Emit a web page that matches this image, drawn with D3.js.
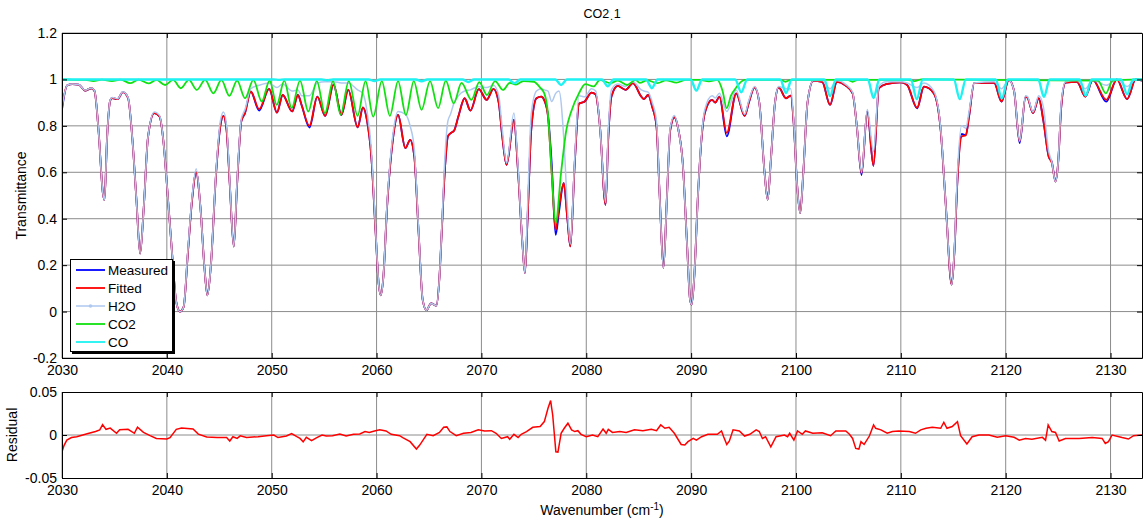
<!DOCTYPE html>
<html>
<head>
<meta charset="utf-8">
<script src="https://cdn.jsdelivr.net/npm/d3@7"></script>
<style>
  body { margin: 0; background: #fff; }
  svg { font-family: "Liberation Sans", Arial, sans-serif; }
</style>
</head>
<body>
<script>
// ---- data ----
const xTicks = [2030, 2040, 2050, 2060, 2070, 2080, 2090, 2100, 2110, 2120, 2130];
const yTicks = [-0.2, 0, 0.2, 0.4, 0.6, 0.8, 1, 1.2];
const resTicks = [-0.05, 0, 0.05];
const seriesNames = ["Measured", "Fitted", "H2O", "CO2", "CO"];

// shared wavenumber grid for measured / fitted / H2O
const wnMain = [
  2030.0,2030.5,2031.0,2031.6,2032.2,2032.8,2033.1,2033.5,2033.9,2034.05,
  2034.3,2034.6,2034.8,2035.3,2035.8,2036.3,2036.7,2037.1,2037.45,2037.8,
  2038.2,2038.8,2039.3,2039.7,2040.0,2040.5,2040.9,2041.25,2041.6,2042.0,
  2042.4,2042.8,2043.2,2043.6,2043.87,2044.2,2044.7,2045.1,2045.4,2045.7,
  2046.0,2046.38,2046.7,2047.1,2047.45,2048.0,2048.8,2049.75,2050.5,2051.05,
  2051.95,2052.5,2052.85,2053.6,2054.35,2055.1,2055.9,2056.65,2057.3,2058.2,
  2058.7,2059.1,2059.5,2059.9,2060.2,2060.4,2060.65,2061.0,2061.55,2062.05,
  2062.75,2063.2,2063.6,2064.0,2064.4,2064.75,2065.2,2065.7,2066.0,2066.2,
  2066.5,2066.8,2067.05,2067.4,2067.8,2068.4,2068.95,2069.75,2070.5,2071.15,
  2071.65,2072.0,2072.4,2073.1,2073.5,2073.9,2074.15,2074.4,2074.75,2075.25,
  2075.7,2076.0,2076.35,2076.7,2077.08,2077.4,2077.85,2078.2,2078.48,2078.9,
  2079.3,2079.85,2080.5,2080.9,2081.3,2081.84,2082.1,2082.4,2083.0,2083.75,
  2084.45,2085.25,2085.5,2085.9,2086.3,2086.7,2087.0,2087.36,2087.7,2088.0,
  2088.4,2088.8,2089.2,2089.6,2089.9,2090.05,2090.3,2090.65,2091.0,2091.3,
  2092.0,2092.3,2092.7,2093.4,2094.3,2095.1,2095.5,2096.05,2096.5,2097.0,
  2097.3,2097.6,2098.0,2098.35,2099.05,2099.5,2099.8,2100.1,2100.4,2100.7,
  2101.1,2101.65,2102.5,2103.25,2103.9,2104.7,2105.4,2105.8,2106.25,2106.8,
  2107.39,2107.9,2108.6,2110.0,2110.6,2111.55,2112.2,2113.15,2113.8,2114.3,
  2114.85,2115.1,2115.4,2115.8,2116.2,2116.5,2117.0,2118.9,2119.6,2120.3,
  2120.8,2121.33,2121.9,2122.1,2122.6,2123.15,2123.6,2124.1,2124.4,2124.75,
  2125.0,2125.3,2125.7,2126.8,2127.6,2128.3,2129.6,2130.6,2131.58,2132.4,
  2133.0
];

const fitted = [
  0.885,0.975,0.98,0.978,0.952,0.962,0.95,0.77,0.51,0.48,
  0.75,0.91,0.92,0.915,0.945,0.92,0.75,0.48,0.25,0.45,
  0.75,0.855,0.84,0.72,0.55,0.25,0.04,0.0,0.02,0.25,
  0.48,0.60,0.45,0.18,0.07,0.2,0.6,0.8,0.843,0.78,
  0.55,0.28,0.55,0.82,0.855,0.948,0.872,0.959,0.857,0.933,
  0.862,0.933,0.89,0.80,0.926,0.843,0.978,0.847,0.955,0.794,
  0.879,0.82,0.668,0.35,0.12,0.07,0.15,0.45,0.74,0.847,
  0.704,0.74,0.668,0.35,0.05,0.006,0.035,0.026,0.15,0.33,
  0.6,0.754,0.768,0.78,0.84,0.919,0.866,0.958,0.912,0.959,
  0.9,0.75,0.632,0.826,0.6,0.3,0.166,0.4,0.783,0.919,
  0.926,0.91,0.84,0.6,0.35,0.45,0.553,0.4,0.281,0.64,
  0.895,0.905,0.943,0.935,0.8,0.46,0.75,0.926,0.972,0.955,
  0.984,0.926,0.915,0.933,0.88,0.797,0.5,0.188,0.5,0.78,
  0.837,0.78,0.64,0.3,0.05,0.03,0.15,0.5,0.75,0.855,
  0.912,0.9,0.926,0.77,0.94,0.843,0.9,0.966,0.9,0.6,
  0.482,0.65,0.9,0.966,0.919,0.93,0.8,0.55,0.424,0.6,
  0.9,0.994,0.99,0.89,0.99,0.975,0.94,0.8,0.596,0.862,
  0.628,0.962,0.98,0.987,0.976,0.878,0.969,0.94,0.783,0.45,
  0.116,0.25,0.568,0.754,0.76,0.84,0.984,0.985,0.905,0.998,
  0.95,0.733,0.926,0.92,0.855,0.919,0.82,0.668,0.64,0.56,
  0.64,0.883,0.986,0.99,0.926,0.998,0.912,1.0,0.915,1.0,
  0.995
];

const measured = [
  0.87,0.975,0.98,0.978,0.952,0.962,0.95,0.77,0.51,0.48,
  0.75,0.91,0.92,0.915,0.945,0.92,0.75,0.48,0.25,0.45,
  0.75,0.855,0.84,0.72,0.55,0.25,0.04,0.0,0.02,0.25,
  0.48,0.60,0.45,0.18,0.07,0.2,0.6,0.8,0.843,0.78,
  0.55,0.28,0.55,0.82,0.855,0.948,0.866,0.959,0.857,0.933,
  0.862,0.933,0.89,0.793,0.926,0.843,0.978,0.847,0.955,0.794,
  0.879,0.82,0.668,0.35,0.12,0.07,0.15,0.45,0.74,0.847,
  0.704,0.74,0.668,0.35,0.05,0.006,0.035,0.026,0.15,0.33,
  0.6,0.754,0.768,0.78,0.84,0.919,0.866,0.958,0.912,0.959,
  0.9,0.75,0.632,0.826,0.6,0.3,0.166,0.4,0.783,0.919,
  0.926,0.91,0.845,0.64,0.33,0.43,0.553,0.4,0.281,0.64,
  0.895,0.905,0.943,0.935,0.8,0.46,0.75,0.926,0.972,0.955,
  0.984,0.926,0.915,0.933,0.88,0.797,0.5,0.188,0.5,0.78,
  0.837,0.78,0.64,0.3,0.05,0.03,0.15,0.5,0.75,0.855,
  0.912,0.9,0.926,0.755,0.94,0.843,0.9,0.966,0.9,0.6,
  0.482,0.65,0.9,0.966,0.919,0.93,0.8,0.55,0.424,0.6,
  0.9,0.994,0.99,0.89,0.99,0.975,0.94,0.8,0.588,0.862,
  0.628,0.962,0.98,0.987,0.976,0.875,0.969,0.94,0.783,0.45,
  0.116,0.25,0.568,0.765,0.76,0.84,0.984,0.985,0.905,0.998,
  0.95,0.726,0.926,0.92,0.855,0.919,0.82,0.668,0.645,0.56,
  0.64,0.883,0.986,0.99,0.926,0.998,0.904,1.0,0.915,1.0,
  0.995
];

const h2o = [
  0.88,0.975,0.98,0.978,0.953,0.963,0.952,0.77,0.51,0.48,
  0.75,0.912,0.922,0.917,0.947,0.922,0.75,0.48,0.25,0.45,
  0.75,0.86,0.845,0.72,0.55,0.25,0.04,0.0,0.02,0.26,
  0.49,0.615,0.45,0.18,0.07,0.2,0.61,0.82,0.86,0.8,
  0.56,0.28,0.56,0.83,0.87,0.96,0.975,0.985,0.965,0.98,
  0.95,0.955,0.93,0.93,0.985,0.99,0.99,0.985,0.985,0.955,
  0.94,0.86,0.7,0.36,0.12,0.07,0.15,0.46,0.76,0.862,
  0.85,0.8,0.7,0.36,0.05,0.006,0.035,0.026,0.15,0.34,
  0.65,0.82,0.85,0.9,0.93,0.95,0.955,0.97,0.965,0.975,
  0.93,0.78,0.64,0.855,0.62,0.3,0.166,0.45,0.85,0.95,
  0.96,0.955,0.95,0.905,0.94,0.95,0.75,0.45,0.29,0.66,
  0.93,0.925,0.96,0.95,0.8,0.47,0.78,0.955,0.98,0.97,
  0.99,0.955,0.95,0.945,0.9,0.82,0.5,0.188,0.5,0.79,
  0.845,0.78,0.64,0.3,0.05,0.03,0.15,0.5,0.76,0.87,
  0.93,0.92,0.94,0.862,0.955,0.85,0.91,0.97,0.9,0.6,
  0.482,0.65,0.9,0.97,0.96,0.96,0.81,0.55,0.424,0.6,
  0.9,0.995,0.995,0.96,0.995,0.98,0.945,0.8,0.6,0.87,
  0.69,0.97,0.99,0.99,0.985,0.965,0.985,0.95,0.79,0.45,
  0.116,0.26,0.6,0.80,0.79,0.86,0.985,0.99,0.96,0.998,
  0.95,0.735,0.93,0.925,0.86,0.93,0.88,0.69,0.645,0.56,
  0.64,0.9,0.99,0.995,0.96,0.998,0.975,1.0,0.97,1.0,
  0.998
];

const wnCO2 = [
  2030.0,2031.5,2032.2,2033.0,2033.8,2034.76,2035.6,2036.5,2037.3,2038.25,
  2039.0,2039.84,2040.6,2041.33,2042.1,2042.86,2043.65,2044.44,2045.2,2045.96,
  2046.7,2047.46,2048.25,2049.05,2049.8,2050.48,2051.2,2051.9,2052.7,2053.49,
  2054.3,2055.08,2055.85,2056.57,2057.35,2058.19,2058.95,2059.68,2060.5,2061.27,
  2062.05,2062.8,2063.55,2064.29,2065.1,2065.87,2066.6,2067.36,2068.1,2069.05,
  2069.8,2070.53,2071.3,2072.06,2072.7,2073.3,2074.0,2075.0,2075.6,2076.0,
  2076.34,2076.7,2077.08,2077.6,2078.1,2078.55,2079.3,2079.9,2080.7,2081.3,
  2082.3,2083.0,2083.9,2084.7,2085.1,2085.8,2086.8,2087.6,2088.6,2089.5,
  2090.8,2091.7,2092.5,2093.0,2093.39,2093.8,2094.3,2095.1,2098.5,2099.0,
  2099.5,2104.9,2105.4,2105.9,2110.6,2111.3,2112.0,2128.8,2129.55,2130.2,
  2133.0
];
const co2 = [
  1.0,0.998,0.998,0.993,0.999,0.993,0.999,0.984,0.999,0.983,
  0.998,0.976,0.998,0.962,0.998,0.955,0.998,0.94,0.998,0.929,
  0.995,0.919,0.998,0.905,0.995,0.89,0.995,0.876,0.995,0.862,
  0.993,0.855,0.993,0.848,0.993,0.843,0.993,0.84,0.993,0.843,
  0.993,0.847,0.993,0.869,0.993,0.876,0.995,0.897,0.985,0.912,
  0.988,0.933,0.993,0.955,0.985,0.978,0.993,0.99,0.965,0.94,
  0.855,0.6,0.381,0.6,0.783,0.86,0.94,0.98,0.97,0.998,
  0.984,0.995,0.976,0.998,0.985,0.996,0.984,0.996,0.986,0.998,
  0.998,0.992,0.998,0.95,0.876,0.93,0.965,0.998,0.998,0.99,
  0.998,0.998,0.99,0.998,0.998,0.993,1.0,0.995,0.94,0.995,
  1.0
];

const wnCO = [
  2030.0,
  2050.15,2050.7,2051.25, 2054.75,2055.3,2055.85, 2059.25,2059.8,2060.35,
  2063.75,2064.3,2064.85, 2068.2,2068.75,2069.3, 2072.6,2073.15,2073.7,
  2077.05,2077.6,2078.15, 2081.5,2082.05,2082.6, 2085.7,2086.25,2086.8,
  2089.95,2090.5,2091.05, 2094.2,2094.78,2095.35, 2098.5,2099.05,2099.6,
  2102.7,2103.25,2103.8, 2106.85,2107.4,2107.95, 2110.95,2111.52,2112.1,
  2115.05,2115.62,2116.2, 2119.05,2119.63,2120.2, 2123.1,2123.65,2124.2,
  2127.05,2127.63,2128.2, 2131.0,2131.58,2132.15,
  2133.0
];
const co = [
  1.0,
  1.0,0.998,1.0, 1.0,0.996,1.0, 1.0,0.993,1.0,
  1.0,0.992,1.0, 1.0,0.989,1.0, 1.0,0.984,1.0,
  1.0,0.976,1.0, 1.0,0.97,1.0, 1.0,0.962,1.0,
  1.0,0.952,1.0, 1.0,0.945,1.0, 1.0,0.942,1.0,
  1.0,0.928,1.0, 1.0,0.92,1.0, 1.0,0.915,1.0,
  1.0,0.915,1.0, 1.0,0.918,1.0, 1.0,0.925,1.0,
  1.0,0.93,1.0, 1.0,0.936,1.0,
  1.0
];

const wnRes = [
  2030.0,2030.2,2030.46,2030.9,2031.4,2032.4,2033.2,2033.6,2033.87,2034.2,
  2034.6,2035.2,2035.5,2036.3,2036.9,2037.2,2037.77,2038.4,2039.0,2040.0,
  2040.3,2040.9,2041.4,2042.5,2043.0,2043.8,2044.8,2045.7,2046.0,2046.3,
  2046.7,2047.0,2047.6,2048.2,2048.7,2049.5,2050.2,2050.6,2051.4,2051.9,
  2052.4,2052.7,2053.0,2053.3,2053.8,2054.3,2054.8,2055.2,2055.8,2056.5,
  2057.1,2057.8,2058.4,2058.9,2059.3,2059.8,2060.3,2060.9,2061.4,2062.2,
  2062.5,2063.2,2063.8,2064.1,2064.8,2065.4,2066.0,2066.4,2066.7,2067.0,
  2067.6,2068.3,2069.0,2069.7,2070.3,2070.95,2071.4,2071.9,2072.5,2072.7,
  2073.1,2073.5,2073.8,2074.3,2074.9,2075.6,2076.0,2076.35,2076.6,2076.8,
  2077.1,2077.3,2077.6,2077.9,2078.25,2078.6,2078.9,2079.2,2079.5,2080.0,
  2080.6,2081.1,2081.6,2081.9,2082.1,2082.5,2083.2,2083.8,2084.6,2085.4,
  2086.2,2086.7,2087.1,2087.5,2087.9,2088.4,2089.05,2089.4,2089.7,2090.2,
  2090.5,2091.0,2091.6,2092.5,2092.9,2093.1,2093.4,2093.65,2094.0,2094.6,
  2095.1,2095.6,2096.2,2096.5,2096.8,2097.1,2097.6,2098.1,2098.9,2099.2,
  2099.4,2099.8,2100.15,2100.6,2100.9,2101.6,2102.5,2103.3,2103.8,2104.75,
  2105.1,2105.4,2105.7,2106.0,2106.2,2106.5,2107.0,2107.4,2107.6,2108.1,
  2108.7,2109.2,2109.8,2110.8,2111.4,2111.9,2112.4,2113.0,2113.8,2114.1,
  2114.4,2114.9,2115.4,2115.7,2116.3,2116.8,2117.45,2118.4,2119.2,2120.0,
  2120.8,2121.3,2121.9,2122.5,2123.5,2123.8,2124.05,2124.4,2124.75,2125.1,
  2125.7,2127.0,2128.25,2129.2,2129.5,2129.8,2130.15,2131.1,2131.7,2132.2,
  2133.0
];
const residual = [
  -0.0195,-0.012,-0.006,-0.003,-0.002,0.0015,0.004,0.006,0.012,0.0066,
  0.008,0.002,0.006,0.0066,0.002,0.009,0.003,-0.0008,-0.004,-0.0047,
  -0.003,0.0066,0.008,0.007,0.001,-0.0023,-0.003,-0.003,-0.007,-0.002,
  -0.004,-0.001,-0.003,-0.0023,-0.002,-0.0008,0.0,-0.003,-0.0012,0.0016,
  -0.002,-0.004,-0.008,-0.0027,-0.0066,-0.003,0.0,-0.0012,-0.0008,0.0012,
  -0.0012,0.0008,0.0012,0.004,0.003,0.0047,0.006,0.0047,0.0008,-0.0008,
  -0.003,-0.0078,-0.0164,-0.012,0.0008,-0.0008,0.003,0.009,0.0094,0.004,
  -0.0008,0.002,0.003,0.006,0.0047,0.005,0.002,-0.004,-0.002,-0.005,
  0.0008,-0.003,0.0008,0.004,0.009,0.0098,0.0156,0.031,0.04,0.023,
  -0.0195,-0.02,0.002,0.0078,0.0137,0.006,0.004,0.005,0.0008,-0.002,
  0.0,-0.002,0.007,0.002,0.0066,0.003,0.004,0.003,0.006,0.005,
  0.0066,0.005,0.0117,0.0078,0.009,0.002,-0.011,-0.0117,-0.0078,-0.004,
  -0.006,-0.002,0.0008,0.0008,0.0047,-0.002,-0.011,-0.007,0.006,0.0047,
  -0.0012,0.0008,0.006,0.004,-0.004,-0.002,-0.0137,-0.002,0.0,-0.002,
  0.002,-0.006,0.0047,0.0008,0.0047,0.002,0.0027,-0.0008,0.0047,0.0047,
  0.0008,-0.004,-0.0156,-0.0164,-0.0078,-0.011,-0.0012,0.0117,0.0078,0.006,
  0.002,0.004,0.0047,0.004,0.002,0.006,0.0078,0.009,0.0078,0.0148,
  0.0078,0.0098,0.0156,-0.0008,-0.0105,-0.002,0.0,0.0,-0.0027,-0.0008,
  -0.0027,-0.006,-0.004,-0.005,-0.0027,-0.006,0.0117,0.004,0.003,-0.007,
  -0.004,-0.004,-0.003,-0.004,-0.0098,-0.0078,0.0,-0.003,-0.0047,-0.0008,
  0.0
];

// ---- layout ----
const w = 1145, h = 522;
const mainBox = { left: 62, right: 1142, top: 33, bottom: 358 };
const resBox = { left: 62, right: 1142, top: 392, bottom: 478 };
const colors = {
  Measured: "#0000ff",
  Fitted: "#ff0000",
  H2O: "#aec8f0",
  CO2: "#11e011",
  CO: "#1ef2f2"
};

const svg = d3.select("body").append("svg")
  .attr("width", w)
  .attr("height", h);

const x = d3.scaleLinear().domain([2030, 2133]).range([mainBox.left, mainBox.right]);
const y = d3.scaleLinear().domain([-0.2, 1.2]).range([mainBox.bottom, mainBox.top]);
const yr = d3.scaleLinear().domain([-0.05, 0.05]).range([resBox.bottom, resBox.top]);

function fmt(d) { return String(+d.toFixed(2)); }

function drawGrid(box, yScale, yTickVals) {
  const g = svg.append("g");
  g.selectAll(".vgrid").data(xTicks).enter().append("line")
    .attr("x1", d => x(d)).attr("x2", d => x(d))
    .attr("y1", box.top).attr("y2", box.bottom)
    .attr("stroke", "#8c8c8c").attr("stroke-width", 1);
  g.selectAll(".hgrid").data(yTickVals).enter().append("line")
    .attr("x1", box.left).attr("x2", box.right)
    .attr("y1", d => yScale(d)).attr("y2", d => yScale(d))
    .attr("stroke", "#8c8c8c").attr("stroke-width", 1);
  return g;
}

function drawAxes(box, yScale, yTickVals) {
  const g = svg.append("g");
  g.append("g").attr("transform", "translate(0," + box.bottom + ")")
    .call(d3.axisBottom(x).tickValues(xTicks).tickSizeInner(-5).tickSizeOuter(0).tickPadding(7.5).tickFormat(d3.format("d")));
  g.append("g").attr("transform", "translate(0," + box.top + ")")
    .call(d3.axisTop(x).tickValues(xTicks).tickSizeInner(-5).tickSizeOuter(0).tickFormat(""));
  g.append("g").attr("transform", "translate(" + box.left + ",0)")
    .call(d3.axisLeft(yScale).tickValues(yTickVals).tickSizeInner(-5).tickSizeOuter(0).tickPadding(5).tickFormat(fmt));
  g.append("g").attr("transform", "translate(" + box.right + ",0)")
    .call(d3.axisRight(yScale).tickValues(yTickVals).tickSizeInner(-5).tickSizeOuter(0).tickFormat(""));
  g.selectAll(".domain").attr("stroke", "#000").attr("stroke-width", 1);
  g.selectAll(".tick line").attr("stroke", "#000");
  g.selectAll(".tick text").attr("fill", "#000").style("font-size", "14px")
    .style("font-family", "'Liberation Sans', Arial, sans-serif");
  return g;
}

// ---- main panel ----
drawGrid(mainBox, y, yTicks);

svg.append("clipPath").attr("id", "clipMain").append("rect")
  .attr("x", mainBox.left).attr("y", mainBox.top)
  .attr("width", mainBox.right - mainBox.left).attr("height", mainBox.bottom - mainBox.top);

const plot = svg.append("g").attr("clip-path", "url(#clipMain)");
const spec = d3.line().curve(d3.curveMonotoneX).x(d => x(d[0])).y(d => y(d[1]));

const pair = (xs, ys) => xs.map((v, i) => [v, ys[i]]);

plot.append("path").datum(pair(wnMain, measured))
  .attr("fill", "none").attr("stroke", colors.Measured).attr("stroke-width", 1.8).attr("d", spec);
plot.append("path").datum(pair(wnMain, fitted))
  .attr("fill", "none").attr("stroke", colors.Fitted).attr("stroke-width", 1.8).attr("d", spec);
plot.append("path").datum(pair(wnMain, h2o))
  .attr("fill", "none").attr("stroke", colors.H2O).attr("stroke-width", 1.5).attr("d", spec);
plot.append("path").datum(pair(wnCO2, co2))
  .attr("fill", "none").attr("stroke", colors.CO2).attr("stroke-width", 1.8).attr("d", spec);
plot.append("path").datum(pair(wnCO, co))
  .attr("fill", "none").attr("stroke", colors.CO).attr("stroke-width", 2.4).attr("d", spec);

drawAxes(mainBox, y, yTicks);

// title
const title = svg.append("text")
  .attr("x", (mainBox.left + mainBox.right) / 2).attr("y", 17.5)
  .attr("text-anchor", "middle").style("font-size", "12.5px").attr("fill", "#000");
title.append("tspan").text("CO2");
title.append("tspan").attr("dx", 1).attr("dy", 2.5).style("font-size", "11px").text(".");
title.append("tspan").attr("dx", 0.5).attr("dy", -2.5).text("1");

svg.append("text")
  .attr("transform", "translate(22," + (mainBox.top + mainBox.bottom) / 2 + ") rotate(-90)")
  .attr("text-anchor", "middle").attr("dominant-baseline", "middle")
  .style("font-size", "14px").text("Transmittance");

// legend
const leg = svg.append("g");
leg.append("rect").attr("x", 72).attr("y", 261).attr("width", 103).attr("height", 93).attr("fill", "#000");
leg.append("rect").attr("x", 70.5).attr("y", 259.5).attr("width", 102).attr("height", 92)
  .attr("fill", "#fff").attr("stroke", "#000").attr("stroke-width", 1);
seriesNames.forEach((name, i) => {
  const cy = 270 + i * 18;
  leg.append("line").attr("x1", 76).attr("x2", 105).attr("y1", cy).attr("y2", cy)
    .attr("stroke", colors[name]).attr("stroke-width", name === "H2O" ? 1.5 : 1.8);
  if (name === "H2O") {
    leg.append("circle").attr("cx", 90.5).attr("cy", cy).attr("r", 1.8).attr("fill", colors[name]);
  }
  leg.append("text").attr("x", 108).attr("y", cy).attr("dominant-baseline", "central")
    .style("font-size", "13.5px").text(name);
});

// ---- residual panel ----
drawGrid(resBox, yr, [0]);

svg.append("clipPath").attr("id", "clipRes").append("rect")
  .attr("x", resBox.left).attr("y", resBox.top)
  .attr("width", resBox.right - resBox.left).attr("height", resBox.bottom - resBox.top);

svg.append("g").attr("clip-path", "url(#clipRes)")
  .append("path").datum(pair(wnRes, residual))
  .attr("fill", "none").attr("stroke", "#ff0000").attr("stroke-width", 1.5)
  .attr("d", d3.line().x(d => x(d[0])).y(d => yr(d[1])));

drawAxes(resBox, yr, resTicks);

svg.append("text")
  .attr("transform", "translate(13," + (resBox.top + resBox.bottom) / 2 + ") rotate(-90)")
  .attr("text-anchor", "middle").attr("dominant-baseline", "middle")
  .style("font-size", "14px").text("Residual");

const xl = svg.append("text")
  .attr("x", (resBox.left + resBox.right) / 2).attr("y", 515)
  .attr("text-anchor", "middle").style("font-size", "14px");
xl.append("tspan").text("Wavenumber (cm");
xl.append("tspan").attr("dy", -5).style("font-size", "10px").text("-1");
xl.append("tspan").attr("dy", 5).text(")");
</script>
</body>
</html>
